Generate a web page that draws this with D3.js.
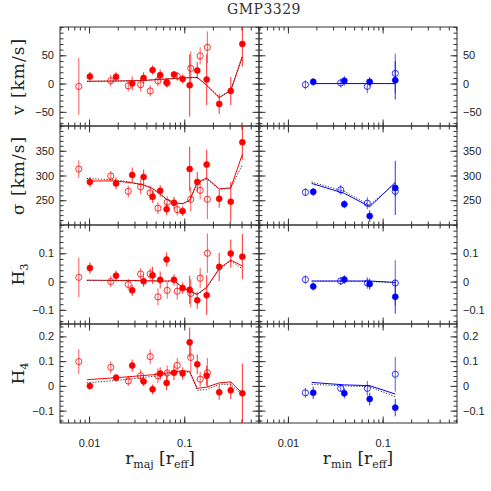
<!DOCTYPE html>
<html>
<head>
<meta charset="utf-8">
<script src="https://cdn.jsdelivr.net/npm/d3@7"></script>
<style>
  body { margin: 0; background: #fff; }
  text { fill: #222; }
  .tick text { font-family: "Liberation Sans", Arial, sans-serif; font-size: 11px; fill: #222; }
  .tick line { stroke: #333; }
  .serif { font-family: "DejaVu Serif", serif; }
</style>
</head>
<body>
<script>
// 画布尺寸
var w = 491, h = 491;
var left = 60, mid = 259, right = 457;
var top0 = 27, rowH = 99;

// 主轴（左列，红色）数据点半径
var majFilledR = [0.0102, 0.0192, 0.0284, 0.0374, 0.0465, 0.0559, 0.0653, 0.078, 0.0962, 0.114, 0.137, 0.172, 0.233, 0.308, 0.408];
var majOpenR = [0.0078, 0.0169, 0.0258, 0.0348, 0.0439, 0.0529, 0.0662, 0.0844, 0.117, 0.147, 0.175];
var majModelR = [0.0095, 0.0192, 0.0284, 0.0374, 0.0465, 0.0559, 0.0653, 0.078, 0.0962, 0.114, 0.137, 0.172, 0.233, 0.308, 0.408];

// [值, 误差]
var majFilledV = [[12.5, 8], [12, 8], [0, 12], [10, 10], [24, 8], [15, 10], [2, 8], [16, 6], [8, 8], [-3, 55], [23, 15], [7, 45], [-36, 18], [-13, 25], [70, 40]];
var majOpenV = [[-5, 50], [5, 10], [-4, 10], [-2, 12], [-13, 10], [5, 10], [1, 8], [13, 8], [27, 30], [49, 15], [64, 28]];
var majFilledS = [[287, 10], [284, 12], [301, 15], [297, 15], [257, 12], [269, 12], [232, 12], [245, 12], [228, 10], [313, 45], [287, 20], [322, 30], [253, 18], [247, 40], [367, 35]];
var majOpenS = [[313, 18], [299, 10], [268, 12], [277, 15], [265, 15], [234, 12], [246, 12], [231, 12], [252, 25], [270, 18], [252, 40]];
var majFilledH3 = [[0.048, 0.02], [0.021, 0.018], [-0.031, 0.02], [0.001, 0.02], [0.022, 0.03], [0.006, 0.03], [0.078, 0.025], [0.006, 0.02], [-0.023, 0.02], [-0.029, 0.05], [-0.066, 0.03], [-0.048, 0.07], [0.052, 0.05], [0.099, 0.05], [0.088, 0.08]];
var majOpenH3 = [[0.015, 0.07], [0.0, 0.02], [-0.01, 0.02], [0.027, 0.02], [0.027, 0.02], [-0.054, 0.03], [-0.031, 0.03], [-0.034, 0.03], [-0.042, 0.05], [0.012, 0.035], [0.1, 0.07]];
var majFilledH4 = [[0.0, 0.015], [0.033, 0.015], [0.082, 0.025], [0.018, 0.02], [-0.014, 0.02], [0.05, 0.025], [0.012, 0.03], [0.053, 0.03], [0.05, 0.025], [0.176, 0.06], [0.087, 0.04], [0.041, 0.04], [-0.026, 0.03], [-0.018, 0.035], [-0.03, 0.12]];
var majOpenH4 = [[0.098, 0.05], [0.075, 0.025], [0.02, 0.02], [0.041, 0.025], [0.118, 0.03], [0.041, 0.03], [0.052, 0.03], [0.083, 0.03], [0.115, 0.06], [0.027, 0.03], [0.053, 0.06]];

// 主轴模型（实线 / 点线）
var majModelV = [4, 4.5, 5, 5.5, 6.5, 7.5, 8, 9, 10, 10.5, 11, -3, -25, -12, 47];
var majModelVdot = [4, 4.5, 5, 5.5, 6.5, 7.5, 8, 9, 10, 10.5, 11, -3, -24, -12, 50];
var majModelS = [289, 289, 285, 281, 274, 263, 252, 245, 243, 250, 286, 295, 273, 275, 343];
var majModelSdot = [294, 291, 286, 281, 273, 262, 251, 245, 243, 249, 285, 293, 272, 274, 322];
var majModelH3 = [0.005, 0.004, 0.004, 0.003, 0.003, 0.002, 0.002, 0.003, -0.02, -0.035, -0.045, -0.02, 0.046, 0.076, 0.055];
var majModelH3dot = [0.004, 0.003, 0.003, 0.002, 0.002, 0.001, 0.001, 0.002, -0.02, -0.035, -0.046, -0.022, 0.044, 0.073, 0.045];
var majModelH4 = [0.025, 0.033, 0.038, 0.042, 0.045, 0.048, 0.052, 0.056, 0.062, 0.058, -0.01, -0.005, 0.012, 0.016, -0.03];
var majModelH4dot = [0.012, 0.022, 0.028, 0.034, 0.038, 0.042, 0.047, 0.052, 0.058, 0.055, -0.018, -0.015, 0.006, 0.006, -0.038];

// 短轴（右列，蓝色）
var minFilledR = [0.0185, 0.0394, 0.073, 0.136];
var minOpenR = [0.0153, 0.0361, 0.0689, 0.136];
var minModelR = [0.0178, 0.0394, 0.073, 0.136];
var minFilledV = [[3, 7], [5, 8], [3, 8], [6, 34]];
var minOpenV = [[-2, 8], [1, 8], [-5, 12], [18, 35]];
var minFilledS = [[267, 8], [242, 8], [218, 12], [275, 55]];
var minOpenS = [[266, 8], [271, 10], [244, 12], [268, 10]];
var minFilledH3 = [[-0.017, 0.015], [0.007, 0.015], [-0.009, 0.02], [-0.054, 0.06]];
var minOpenH3 = [[0.007, 0.015], [0.002, 0.015], [-0.005, 0.02], [-0.005, 0.08]];
var minFilledH4 = [[-0.028, 0.025], [-0.03, 0.02], [-0.053, 0.025], [-0.088, 0.035]];
var minOpenH4 = [[-0.028, 0.02], [-0.01, 0.015], [-0.01, 0.03], [0.047, 0.07]];
var minModelV = [0, 0, 0, 0];
var minModelVdot = [0, 0, 0, 0];
var minModelS = [284, 264, 237, 286];
var minModelSdot = [287, 268, 240, 284];
var minModelH3 = [0.002, 0.002, 0.002, -0.003];
var minModelH3dot = [0.001, 0.001, 0.0, -0.004];
var minModelH4 = [0.014, 0.004, 0.001, -0.033];
var minModelH4dot = [0.006, 0.0, -0.004, -0.044];

// 各行的 y 轴范围与刻度
var rowDomains = [[-75, 100], [200, 400], [-0.15, 0.2], [-0.15, 0.25]];
var rowMajorTicks = [[-50, 0, 50], [250, 300, 350], [-0.1, 0, 0.1], [-0.1, 0, 0.1, 0.2]];
var rowMinorStep = [10, 10, 0.02, 0.02];
var xTickLabels = [0.01, 0.1];

var rows = [
  { label: "v", maj: [majFilledV, majOpenV, majModelV, majModelVdot], min: [minFilledV, minOpenV, minModelV, minModelVdot] },
  { label: "σ", maj: [majFilledS, majOpenS, majModelS, majModelSdot], min: [minFilledS, minOpenS, minModelS, minModelSdot] },
  { label: "H3", maj: [majFilledH3, majOpenH3, majModelH3, majModelH3dot], min: [minFilledH3, minOpenH3, minModelH3, minModelH3dot] },
  { label: "H4", maj: [majFilledH4, majOpenH4, majModelH4, majModelH4dot], min: [minFilledH4, minOpenH4, minModelH4, minModelH4dot] }
];

var svg = d3.select("body").append("svg").attr("width", w).attr("height", h);

// 标题
svg.append("text").attr("class", "serif")
  .attr("x", 264).attr("y", 14)
  .attr("text-anchor", "middle")
  .attr("font-size", 14)
  .attr("letter-spacing", 0.5)
  .style("fill", "#333")
  .text("GMP3329");

var cols = [
  { x0: left, x1: mid, color: "#f00", R: [majFilledR, majOpenR, majModelR], key: "maj" },
  { x0: mid, x1: right, color: "#00f", R: [minFilledR, minOpenR, minModelR], key: "min" }
];

// 对数刻度的小刻度
var minorX = [];
[0.001, 0.01, 0.1].forEach(function (d) {
  for (var k = 1; k < 10; k++) {
    var v = d * k;
    if (v > 0.00495 && v < 0.61) minorX.push(v);
  }
});

rows.forEach(function (row, ri) {
  var y0 = top0 + ri * rowH, y1 = y0 + rowH;
  var y = d3.scaleLinear().domain(rowDomains[ri]).range([y1, y0]);
  var dom = rowDomains[ri], step = rowMinorStep[ri];
  var minorY = d3.range(Math.ceil(dom[0] / step - 1e-6), Math.floor(dom[1] / step + 1e-6) + 1)
    .map(function (k) { return +(k * step).toFixed(4); });

  cols.forEach(function (col, ci) {
    var x = d3.scaleLog().domain([0.00495, 0.61]).range([col.x0, col.x1]);
    var g = svg.append("g");
    var clipId = "clip" + ri + "_" + ci;
    svg.append("clipPath").attr("id", clipId)
      .append("rect").attr("x", col.x0).attr("y", y0).attr("width", col.x1 - col.x0).attr("height", rowH);

    // 刻度（向内）
    function addAxis(axis, tx, ty, vals, size, labels) {
      var a = axis.tickValues(vals).tickSize(size).tickPadding(labels ? 6 : 0);
      if (!labels) a.tickFormat("");
      else a.tickFormat(function (d) { return d3.format("")(d); });
      var ag = g.append("g").attr("transform", "translate(" + tx + "," + ty + ")").call(a);
      ag.select(".domain").remove();
      return ag;
    }
    addAxis(d3.axisLeft(y), col.x0, 0, minorY, -3.5, false);
    addAxis(d3.axisLeft(y), col.x0, 0, rowMajorTicks[ri], -6.5, ci === 0);
    addAxis(d3.axisRight(y), col.x1, 0, minorY, -3.5, false);
    addAxis(d3.axisRight(y), col.x1, 0, rowMajorTicks[ri], -6.5, ci === 1);
    addAxis(d3.axisTop(x), 0, y0, minorX, -3.5, false);
    addAxis(d3.axisTop(x), 0, y0, xTickLabels, -6.5, false);
    addAxis(d3.axisBottom(x), 0, y1, minorX, -3.5, false);
    var xb = addAxis(d3.axisBottom(x), 0, y1, xTickLabels, -6.5, ri === 3);
    xb.selectAll("text").attr("dy", "1.6em");

    g.append("rect").attr("x", col.x0).attr("y", y0)
      .attr("width", col.x1 - col.x0).attr("height", rowH)
      .attr("fill", "none").attr("stroke", "#333").attr("stroke-width", 1);

    var sets = row[col.key];
    var plot = g.append("g").attr("clip-path", "url(#" + clipId + ")");

    // 模型曲线
    var line = d3.line()
      .x(function (d, i) { return x(col.R[2][i]); })
      .y(function (d) { return y(d); });
    plot.append("path").attr("d", line(sets[2]))
      .attr("fill", "none").attr("stroke", col.color).attr("stroke-width", 1);
    plot.append("path").attr("d", line(sets[3]))
      .attr("fill", "none").attr("stroke", "#333").attr("stroke-width", 1)
      .attr("stroke-dasharray", "1.2,1.6");

    // 误差棒与数据点
    [1, 0].forEach(function (si) {
      var pts = sets[si].map(function (d, i) { return { r: col.R[si][i], v: d[0], e: d[1] }; });
      plot.selectAll(null).data(pts).enter().append("line")
        .attr("x1", function (d) { return x(d.r); })
        .attr("x2", function (d) { return x(d.r); })
        .attr("y1", function (d) { return y(d.v - d.e); })
        .attr("y2", function (d) { return y(d.v + d.e); })
        .attr("stroke", col.color).attr("stroke-width", 1.1)
        .attr("stroke-opacity", si === 0 ? 0.75 : 0.6);
      plot.selectAll(null).data(pts).enter().append("circle")
        .attr("cx", function (d) { return x(d.r); })
        .attr("cy", function (d) { return y(d.v); })
        .attr("r", si === 0 ? 3 : 3.1)
        .attr("fill", si === 0 ? col.color : "none")
        .attr("stroke", col.color).attr("stroke-width", si === 0 ? 0.6 : 1)
        .attr("stroke-opacity", si === 0 ? 1 : 0.8);
    });
  });

  // y 轴标题
  var cy = y0 + rowH / 2;
  var t = svg.append("text").attr("class", "serif")
    .attr("transform", "translate(24," + cy + ") rotate(-90)")
    .attr("text-anchor", "middle")
    .attr("font-size", 17);
  if (ri < 2) {
    t.attr("letter-spacing", 1).text(row.label + " [km/s]");
  } else {
    t.append("tspan").text("H");
    t.append("tspan").attr("font-size", 11).attr("dy", 4).text(row.label.slice(1));
  }
});

// x 轴标题
[{ cx: 160, sub: "maj" }, { cx: 358, sub: "min" }].forEach(function (d) {
  var t = svg.append("text").attr("class", "serif")
    .attr("x", d.cx).attr("y", 464)
    .attr("text-anchor", "middle").attr("font-size", 17);
  t.append("tspan").text("r");
  t.append("tspan").attr("font-size", 11).attr("dy", 4).text(d.sub);
  t.append("tspan").attr("dy", -4).text(" [r");
  t.append("tspan").attr("font-size", 11).attr("dy", 4).text("eff");
  t.append("tspan").attr("dy", -4).text("]");
});
</script>
</body>
</html>
